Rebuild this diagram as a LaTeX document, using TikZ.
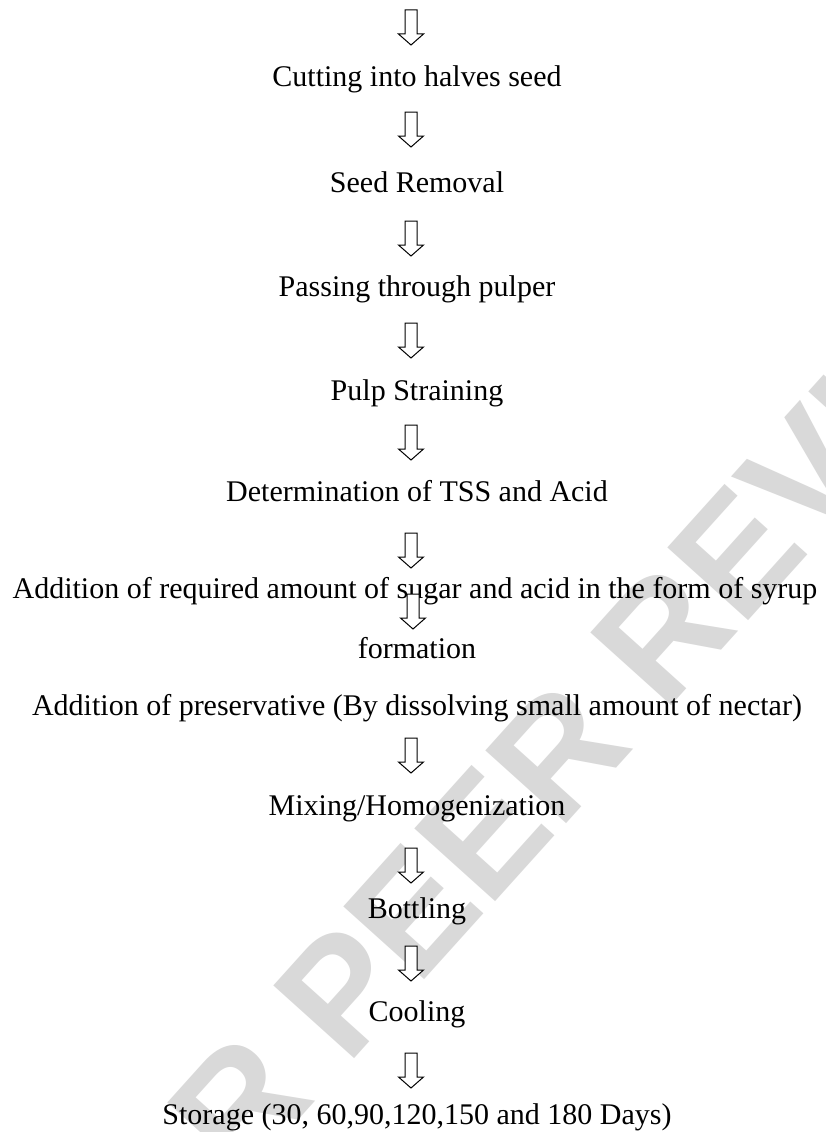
\documentclass[tikz,border=0pt]{standalone}
\usepackage{fontspec}
\setmainfont{Liberation Serif}
\newfontfamily\wmfont{Liberation Sans}
\begin{document}
\begin{tikzpicture}[x=1pt,y=-1pt,
  steptext/.style={anchor=base,inner sep=0pt,font=\fontsize{30}{36}\selectfont},
  arrowline/.style={draw=black,fill=white,line width=1pt,line join=miter},
  darrow/.pic={\path[arrowline] (-6,0) -- (-6,24) -- (-12.5,24) -- (0,35) -- (12.5,24) -- (6,24) -- (6,0) -- cycle;},
  wm/.style={text=black!15,font=\wmfont\bfseries\fontsize{158}{158}\selectfont,rotate=48,inner sep=0pt}]
\useasboundingbox (0,0) rectangle (825,1132);
\clip (0,0) rectangle (825,1132);
\fill[white] (0,0) rectangle (825,1132);
\node[wm] (wm) at (548,762) {FOR PEER REVIEW};

\pic (a1) at (411,10) {darrow};
\node[steptext] (s1) at (417,86) {Cutting into halves seed};
\pic (a2) at (411,112) {darrow};
\node[steptext] (s2) at (417,192) {Seed Removal};
\pic (a3) at (411,221) {darrow};
\node[steptext] (s3) at (417,296) {Passing through pulper};
\pic (a4) at (411,323) {darrow};
\node[steptext] (s4) at (417,400) {Pulp Straining};
\pic (a5) at (411,425) {darrow};
\node[steptext] (s5) at (417,501) {Determination of TSS and Acid};
\pic (a6) at (411,533) {darrow};
\node[steptext] (s6) at (415,598) {Addition of required amount of sugar and acid in the form of syrup};
\pic (a7) at (413,594) {darrow};
\node[steptext] (s7) at (417,658) {formation};
\node[steptext] (s8) at (417,715) {Addition of preservative (By dissolving small amount of nectar)};
\pic (a8) at (411,738) {darrow};
\node[steptext] (s9) at (417,815) {Mixing/Homogenization};
\pic (a9) at (411,848) {darrow};
\node[steptext] (s10) at (417,918) {Bottling};
\pic (a10) at (411,946) {darrow};
\node[steptext] (s11) at (417,1021) {Cooling};
\pic (a11) at (411,1053) {darrow};
\node[steptext] (s12) at (417,1124) {Storage (30, 60,90,120,150 and 180 Days)};
\end{tikzpicture}
\end{document}
